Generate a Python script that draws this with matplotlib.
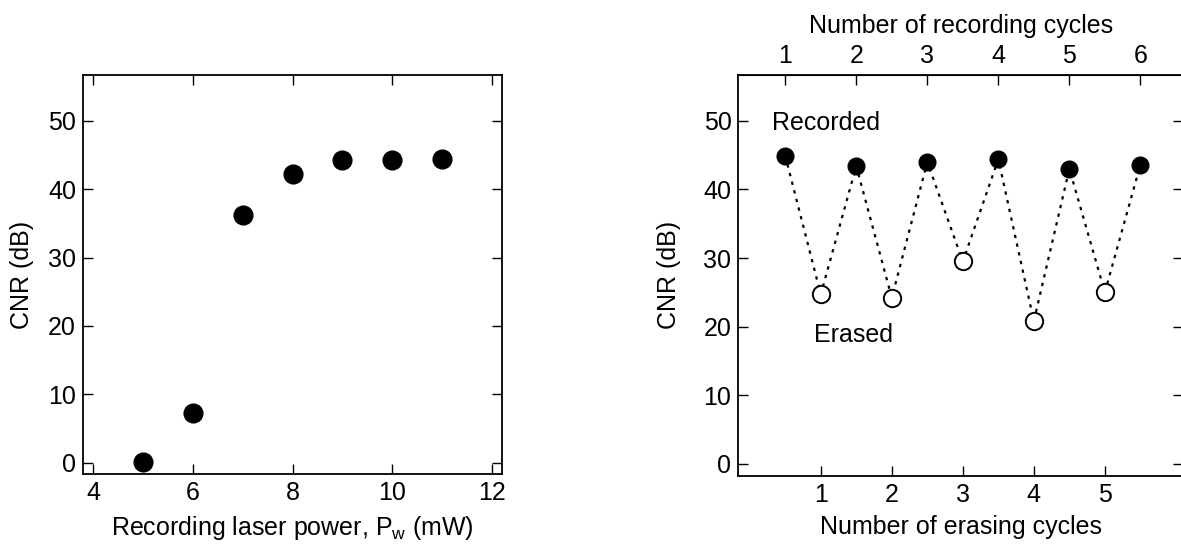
import matplotlib
matplotlib.use("Agg")
import matplotlib.pyplot as plt

plt.rcParams['font.family'] = ['Liberation Sans', 'DejaVu Sans']
plt.rcParams['mathtext.default'] = 'regular'
plt.rcParams['font.size'] = 18

# left panel: CNR vs recording laser power
power = [5, 6, 7, 8, 9, 10, 11]
cnr_power = [0.15, 7.3, 36.2, 42.2, 44.2, 44.3, 44.4]

# right panel: recorded / erased cycles
rec_cycle = [1, 2, 3, 4, 5, 6]
cnr_recorded = [44.9, 43.4, 44.0, 44.4, 43.0, 43.6]
erase_cycle = [1, 2, 3, 4, 5]
cnr_erased = [24.7, 24.2, 29.5, 20.8, 25.0]

FS = 18

fig = plt.figure(figsize=(11.81, 5.46), dpi=100)

def style(ax):
    for s in ax.spines.values():
        s.set_linewidth(1.3)
    ax.tick_params(direction='in', length=7.5, width=1, pad=5,
                   top=True, right=True, labelsize=FS)
    ax.set_ylim(-1.7, 56.7)
    ax.set_yticks([0, 10, 20, 30, 40, 50])

ax1 = fig.add_axes([0.0703, 0.131, 0.355, 0.732])
ax1.plot(power, cnr_power, 'o', color='black', markersize=13.5)
ax1.set_xlim(3.79, 12.21)
ax1.set_xticks([4, 6, 8, 10, 12])
style(ax1)
ax1.set_xlabel('Recording laser power, P$_{w}$ (mW)', fontsize=FS, labelpad=6)
ax1.set_ylabel('CNR (dB)', fontsize=FS, labelpad=10)

ax2 = fig.add_axes([0.6252, 0.129, 0.3765, 0.734])
# recording cycle n sits at erasing position n-0.5
rec_x = [c - 0.5 for c in rec_cycle]
# zig-zag dotted line through recorded/erased points in order
xs, ys = [], []
for i in range(len(rec_cycle)):
    xs.append(rec_x[i]); ys.append(cnr_recorded[i])
    if i < len(erase_cycle):
        xs.append(erase_cycle[i]); ys.append(cnr_erased[i])
ax2.plot(xs, ys, color='black', linewidth=1.6, linestyle=(0, (1.5, 2.5)), zorder=1)
ax2.plot(rec_x, cnr_recorded, 'o', color='black', markersize=12, zorder=3)
ax2.plot(erase_cycle, cnr_erased, 'o', markerfacecolor='white',
         markeredgecolor='black', markeredgewidth=1.4, markersize=12.5, zorder=3)
ax2.set_xlim(-0.16, 6.1)
ax2.set_xticks(erase_cycle)
style(ax2)
ax2.tick_params(top=False)
ax2.set_xlabel('Number of erasing cycles', fontsize=FS, labelpad=6)
ax2.set_ylabel('CNR (dB)', fontsize=FS, labelpad=16)

top = ax2.secondary_xaxis('top', functions=(lambda x: x + 0.5, lambda x: x - 0.5))
top.set_xticks(rec_cycle)
top.tick_params(direction='in', length=7.5, width=1, pad=5, labelsize=FS)
top.set_xlabel('Number of recording cycles', fontsize=FS, labelpad=8)

ax2.text(0.32, 49.7, 'Recorded', fontsize=FS, va='center', ha='left')
ax2.text(0.91, 18.8, 'Erased', fontsize=FS, va='center', ha='left')

fig.savefig('out.png', dpi=100)
